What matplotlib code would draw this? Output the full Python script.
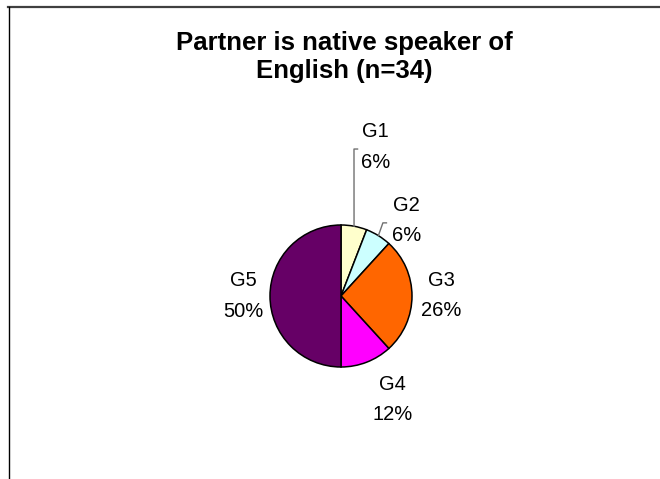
import matplotlib
matplotlib.use("Agg")
import matplotlib.pyplot as plt
import numpy as np
from matplotlib.lines import Line2D

plt.rcParams['font.family'] = ['Liberation Sans', 'DejaVu Sans']

# Survey data: partner is native speaker of English
groups = ["G1", "G2", "G3", "G4", "G5"]
counts = [2, 2, 9, 4, 17]
colors = ["#FFFFCC", "#CCFFFF", "#FF6600", "#FF00FF", "#660066"]
title = "Partner is native speaker of\nEnglish (n=34)"

# label centres, in pie radius units from the centre
label_pos = [(0.49, 2.10), (0.92, 1.06), (1.41, 0.01), (0.73, -1.46), (-1.38, 0.0)]
# bend point of the leader lines (None = no leader)
leader_bend = [(0.183, 2.07), (0.59, 1.03), None, None, None]

total = sum(counts)
W, H = 660, 479
fig = plt.figure(figsize=(W / 100, H / 100), dpi=100)
fig.patch.set_facecolor("white")

# chart border (top and left edges visible)
fig.add_artist(Line2D([8 / W, 1], [1 - 6.5 / H, 1 - 6.5 / H], color="#404040", lw=1.6,
                      transform=fig.transFigure))
fig.add_artist(Line2D([8.5 / W, 8.5 / W], [0, 1 - 6.5 / H], color="black", lw=1.0,
                      transform=fig.transFigure))

fig.text(344.5 / W, 1 - 57 / H, title, ha="center", va="center", fontsize=18.5,
         fontweight="bold", linespacing=1.2)

cx, cy, r = 341, 296, 71
ax = fig.add_axes([(cx - r) / W, (H - cy - r) / H, 2 * r / W, 2 * r / H])
wedges, _ = ax.pie(counts, colors=colors, startangle=90, counterclock=False,
                   wedgeprops=dict(edgecolor="black", linewidth=1.1))
ax.set_xlim(-1, 1)
ax.set_ylim(-1, 1)
ax.set_aspect("equal")
ax.axis("off")

for w, g, c, pos, bend in zip(wedges, groups, counts, label_pos, leader_bend):
    pct = round(100 * c / total)
    ax.text(pos[0], pos[1], f"{g}\n{pct}%", ha="center", va="center", fontsize=14.5,
            linespacing=1.75, clip_on=False)
    if bend is not None:
        mid = np.deg2rad((w.theta1 + w.theta2) / 2)
        x0, y0 = np.cos(mid), np.sin(mid)
        ax.plot([x0, bend[0], bend[0] + 0.05], [y0, bend[1], bend[1]], color="#707070",
                lw=1.0, clip_on=False)

fig.savefig("out.png", dpi=100)
